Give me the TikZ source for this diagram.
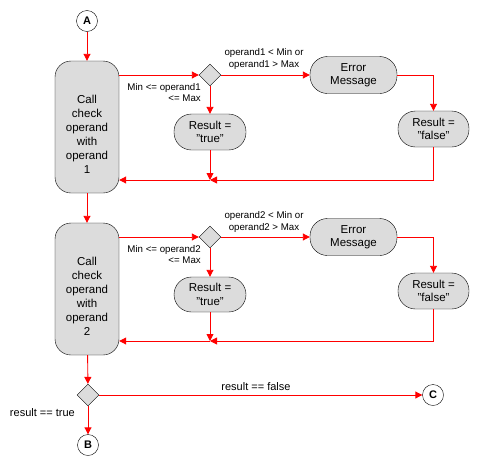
\documentclass[tikz,border=0pt]{standalone}
\usepackage{fontspec}
\setmainfont{Liberation Sans}
\usetikzlibrary{arrows.meta,shapes.geometric}
\definecolor{boxgray}{RGB}{220,220,220}

\begin{document}
\begin{tikzpicture}[x=1pt,y=-1pt]
\tikzstyle{every node}=[font=\fontsize{11.5}{14}\selectfont, align=center, inner sep=0pt];
\tikzstyle{proc}=[draw, fill=boxgray, rounded corners=16pt, minimum width=64pt, minimum height=132pt, text height=92pt, text depth=0pt];
\tikzstyle{act}=[draw, fill=boxgray, rounded corners=17.5pt, minimum height=36pt, font=\fontsize{11.5}{13.5}\selectfont];
\tikzstyle{dec}=[draw, fill=boxgray, diamond, minimum size=22pt];
\tikzstyle{conn}=[draw, fill=white, circle, minimum size=21pt, font=\fontsize{11}{13}\selectfont\bfseries];
\tikzstyle{flow}=[draw=red, line width=0.9pt, -{Triangle[length=7pt,width=7pt]}];
\tikzstyle{lbl}=[font=\fontsize{9.7}{11.5}\selectfont];
\tikzstyle{lblb}=[font=\fontsize{11}{13}\selectfont];

\useasboundingbox (0,0) rectangle (481,466);

% first operand
\draw (87,21) node[conn] (a) {A};
\draw (87,127) node[proc] (p1) {Call\\check\\operand\\with\\operand\\1};
\draw (210,75) node[dec] (d1) {};
\draw (210,132) node[act, minimum width=72pt] (t1) {Result =\\"true"};
\draw (353.5,75) node[act, minimum width=87pt, minimum height=37pt] (e1) {Error\\Message};
\draw (433.5,129) node[act, minimum width=71pt] (f1) {Result =\\"false"};
\coordinate (m1) at (210,180);

\draw (201,83) node[lbl, anchor=north east, align=right] (l1) {Min <= operand1\\<= Max};
\draw (264,59) node[lbl] (l2) {operand1 < Min or\\operand1 > Max};

% second operand
\draw (87,289) node[proc] (p2) {Call\\check\\operand\\with\\operand\\2};
\draw (210,237) node[dec] (d2) {};
\draw (210,294.5) node[act, minimum width=72pt, minimum height=35pt] (t2) {Result =\\"true"};
\draw (353.5,237) node[act, minimum width=87pt, minimum height=37pt] (e2) {Error\\Message};
\draw (433.5,291) node[act, minimum width=71pt] (f2) {Result =\\"false"};
\coordinate (m2) at (210,341);

\draw (201,245) node[lbl, anchor=north east, align=right] (l3) {Min <= operand2\\<= Max};
\draw (264,222) node[lbl] (l4) {operand2 < Min or\\operand2 > Max};

% result
\draw (88,395) node[dec] (d3) {};
\draw (433,395) node[conn] (c) {C};
\draw (88,445) node[conn] (b) {B};
\draw (256,387) node[lblb] (l5) {result == false};
\draw (75,413) node[lblb, anchor=east] (l6) {result == true};

\draw[flow] (a) -- (p1);
\draw[flow] (p1.east |- d1) -- (d1);
\draw[flow] (d1) -- (t1);
\draw[flow] (d1) -- (e1);
\draw[flow] (e1.east) -| (f1.north);
\draw[flow] (t1) -- (m1);
\draw[flow] (f1.south) |- (m1);
\draw[flow] (m1) -- (p1.east |- m1);

\draw[flow] (p1) -- (p2);
\draw[flow] (p2.east |- d2) -- (d2);
\draw[flow] (d2) -- (t2);
\draw[flow] (d2) -- (e2);
\draw[flow] (e2.east) -| (f2.north);
\draw[flow] (t2) -- (m2);
\draw[flow] (f2.south) |- (m2);
\draw[flow] (m2) -- (p2.east |- m2);

\draw[flow] (p2) -- (d3);
\draw[flow] (d3) -- (c);
\draw[flow] (d3) -- (b);

\end{tikzpicture}
\end{document}
